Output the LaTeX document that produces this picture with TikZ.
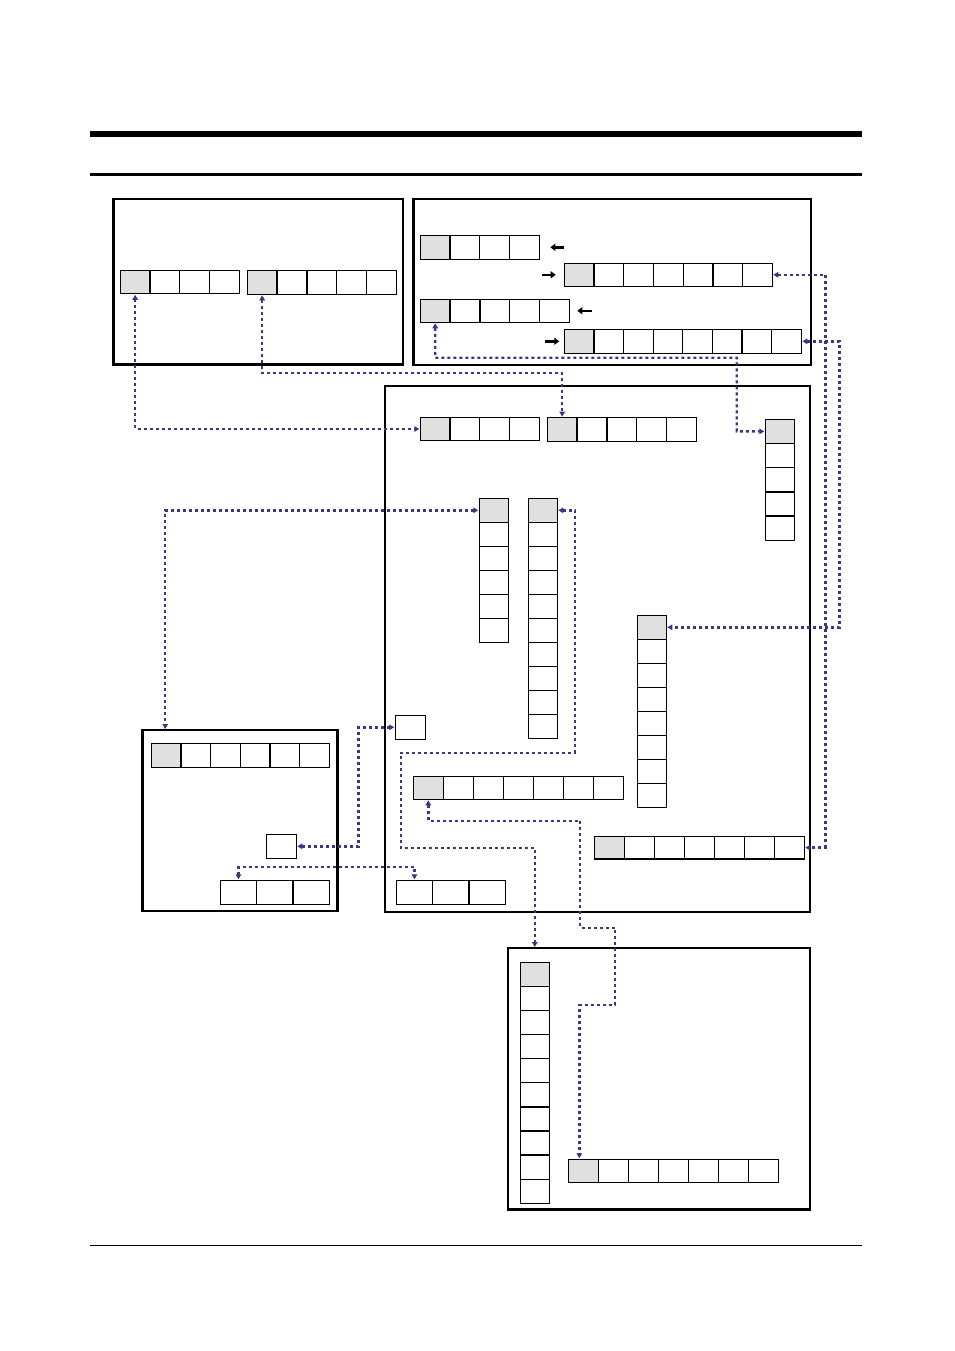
\documentclass[tikz,border=0pt]{standalone}
\usetikzlibrary{arrows.meta}
\definecolor{cellgray}{HTML}{E0E0E0}
\definecolor{linkblue}{HTML}{3F3486}
\tikzset{
  cell/.style={draw=black,line width=1.3pt,inner sep=0pt,outer sep=0pt,anchor=north west},
  frame/.style={draw=black,line width=2.8pt,inner sep=0pt,outer sep=0pt,anchor=north west},
  link/.style={draw=linkblue,line width=2.4pt,dash pattern=on 3pt off 3pt,
    {Triangle[length=5pt,width=5.5pt]}-{Triangle[length=5pt,width=5.5pt]},shorten <=1pt,shorten >=1pt},
  blk/.style={draw=black,line width=2.4pt,-{Triangle[length=5pt,width=7pt]}},
  rule/.style={draw=black}
}
% name, x0, y0, total width, height, n, first fill
\newcommand\hcells[7]{%
  \pgfmathsetmacro\mycw{#4/#6}%
  \foreach \i in {1,...,#6}{%
    \ifnum\i=1 \def\myfc{#7}\else\def\myfc{white}\fi
    \pgfmathsetmacro\mycx{#2+(\i-1)*\mycw}%
    \node[cell,fill=\myfc,minimum width=\mycw pt,minimum height=#5pt] (#1-\i) at (\mycx,#3) {};
  }}
% name, x0, y0, width, total height, n, first fill
\newcommand\vcells[7]{%
  \pgfmathsetmacro\mych{#5/#6}%
  \foreach \i in {1,...,#6}{%
    \ifnum\i=1 \def\myfc{#7}\else\def\myfc{white}\fi
    \pgfmathsetmacro\mycy{#3+(\i-1)*\mych}%
    \node[cell,fill=\myfc,minimum width=#4pt,minimum height=\mych pt] (#1-\i) at (#2,\mycy) {};
  }}
\newcommand\myframe[5]{%
  \node[frame,minimum width=#4pt,minimum height=#5pt] (#1) at (#2,#3) {};}
\begin{document}
\begin{tikzpicture}[x=1pt,y=-1pt]
\useasboundingbox (0,0) rectangle (954,1351);
% page rules
\coordinate (r1a) at (90,134); \coordinate (r1b) at (862,134);
\coordinate (r2a) at (90,174.3); \coordinate (r2b) at (862,174.3);
\coordinate (r3a) at (90,1245); \coordinate (r3b) at (862,1245);
\draw[rule,line width=6pt] (r1a) -- (r1b);
\draw[rule,line width=3pt] (r2a) -- (r2b);
\draw[rule,line width=1pt] (r3a) -- (r3b);
% frames
\myframe{A}{113.5}{199}{289.5}{165.5}
\myframe{B}{413.5}{199}{397.5}{166}
\myframe{C}{385}{386}{425}{526}
\myframe{D}{142.5}{730}{195}{181}
\myframe{E}{508}{948}{302}{261.5}
% box A
\hcells{A1}{120.3}{270.5}{119}{23.3}{4}{cellgray}
\hcells{A2}{247.3}{270.7}{149}{23.6}{5}{cellgray}
% box B
\hcells{B1}{420.3}{235.3}{119}{24}{4}{cellgray}
\hcells{B2}{564.3}{263.3}{208}{23}{7}{cellgray}
\hcells{B3}{420.3}{299.3}{149}{23}{5}{cellgray}
\hcells{B4}{564.3}{329.3}{237}{24}{8}{cellgray}
\draw[blk] ([xshift=25pt]B1-4.east) -- ([xshift=11pt]B1-4.east);
\draw[blk] ([xshift=-22.6pt]B2-1.west) -- ([xshift=-8.6pt]B2-1.west);
\draw[blk] ([xshift=22.4pt]B3-5.east) -- ([xshift=8pt]B3-5.east);
\draw[blk] ([xshift=-19.3pt]B4-1.west) -- ([xshift=-5pt]B4-1.west);
% box C
\hcells{C1}{420.3}{417.7}{119}{22.6}{4}{cellgray}
\hcells{C2}{547.3}{417.7}{149}{23.6}{5}{cellgray}
\vcells{C3}{765.3}{419.3}{29}{121}{5}{cellgray}
\vcells{C4}{479.3}{498.3}{29}{144}{6}{cellgray}
\vcells{C5}{528.3}{498.3}{29}{240}{10}{cellgray}
\vcells{C6}{637.3}{615.3}{29}{192}{8}{cellgray}
\node[cell,minimum width=30pt,minimum height=24pt] (C7) at (395.3,715.3) {};
\hcells{C8}{413.3}{776.3}{210}{23}{7}{cellgray}
\hcells{C9}{594.3}{836.3}{210}{22.7}{7}{cellgray}
\hcells{C10}{396.3}{880.3}{109}{24}{3}{white}
% box D
\hcells{D1}{151.3}{743.3}{178}{24}{6}{cellgray}
\node[cell,minimum width=30pt,minimum height=24pt] (D2) at (266.3,834.3) {};
\hcells{D3}{220.3}{880.3}{109}{24}{3}{white}
% box E
\vcells{E1}{520.3}{962.3}{29}{241}{10}{cellgray}
\hcells{E2}{568.3}{1159.3}{210}{23}{7}{cellgray}
% connectors
\draw[link] (A1-1.south) |- (C1-1.west);
\draw[link] (A2-1.south) -- ++(0,78.4) -| (C2-1.north);
\draw[link] (B3-1.south) -- ++(0,35.4) -| (736.7,431.3) -- (C3-1.west);
\draw[link] (B2-7.east) -- ++(53,0) |- (C9-7.east);
\draw[link] (B4-8.east) -- ++(38,0) |- (C6-1.east);
\draw[link] (C4-1.west) -| ([xshift=22.7pt]D.north west);
\draw[link] (C5-1.east) -- ++(17.7,0) |- (401,752.7) |- (534.8,848) -- (E1-1.north |- E.north);
\draw[link] (C8-1.south) |- (580,820.7) -- (580,927.7) -- (615,927.7) -- (615,1005) -| ([xshift=-4pt]E2-1.north);
\draw[link] (C7.west) -- ++(-37,0) |- (D2.east);
\draw[link] (D3-1.north) -- ++(0,-13.6) -| (C10-1.north);
\end{tikzpicture}
\end{document}
